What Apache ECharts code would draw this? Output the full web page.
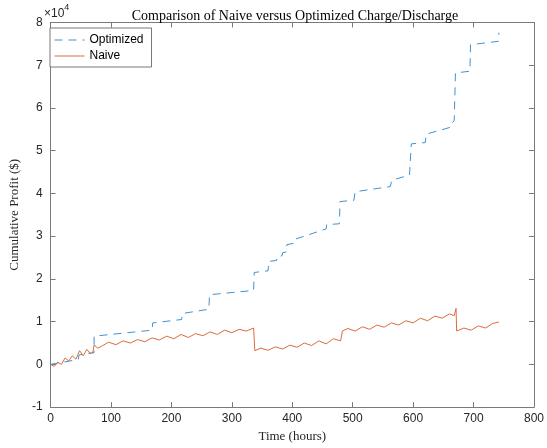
<!DOCTYPE html>
<html>
<head>
<meta charset="utf-8">
<script src="https://cdn.jsdelivr.net/npm/echarts@6/dist/echarts.min.js"></script>
<style>
  html, body { margin: 0; padding: 0; background: #fff; }
  #main { width: 547px; height: 448px; }
</style>
</head>
<body>
<div id="main"></div>
<script>
// values in units of 1e4 $, x in hours
var optimized = [
  [0, 0.00], [20, 0.05], [40, 0.10], [46, 0.12], [47, 0.22], [68, 0.27], [72, 0.27],
  [72, 0.66], [168, 0.80], [169, 0.97], [217, 1.05], [218, 1.19], [262, 1.29],
  [263, 1.63], [336, 1.73], [337, 2.15], [360, 2.19], [361, 2.41], [374, 2.43],
  [375, 2.52], [383, 2.54], [384, 2.61], [390, 2.63], [391, 2.80], [404, 2.84],
  [405, 2.93], [420, 3.00], [456, 3.17], [457, 3.27], [478, 3.29], [479, 3.81],
  [502, 3.84], [504, 4.04], [562, 4.16], [565, 4.31], [594, 4.43], [597, 5.16],
  [620, 5.19], [622, 5.39], [645, 5.48], [662, 5.55], [664, 5.65], [668, 5.70],
  [670, 6.82], [694, 6.86], [695, 7.48], [741, 7.56], [742, 7.76]
];

var naive = [
  [0, 0.00], [6, -0.05], [12, 0.05], [18, 0.00], [24, 0.15], [30, 0.08], [36, 0.20],
  [42, 0.12], [48, 0.32], [54, 0.20], [60, 0.35], [66, 0.25], [70, 0.28], [72, 0.45],
  [78, 0.38], [84, 0.42], [96, 0.52], [108, 0.46], [120, 0.55], [132, 0.50], [144, 0.58],
  [156, 0.53], [168, 0.62], [180, 0.57], [192, 0.66], [204, 0.60], [216, 0.70],
  [228, 0.63], [240, 0.72], [252, 0.67], [264, 0.76], [276, 0.70], [288, 0.80],
  [300, 0.74], [312, 0.82], [324, 0.78], [336, 0.85], [337, 0.85], [338, 0.32],
  [348, 0.38], [360, 0.33], [372, 0.41], [384, 0.36], [396, 0.45], [408, 0.40],
  [420, 0.50], [432, 0.44], [444, 0.55], [456, 0.48], [468, 0.60], [480, 0.55],
  [482, 0.58], [483, 0.78], [492, 0.84], [504, 0.78], [516, 0.88], [528, 0.82],
  [540, 0.92], [552, 0.87], [564, 0.97], [576, 0.92], [588, 1.02], [600, 0.97],
  [612, 1.08], [624, 1.02], [636, 1.13], [648, 1.08], [660, 1.18], [668, 1.14],
  [671, 1.31], [672, 0.78], [684, 0.85], [696, 0.80], [708, 0.90], [720, 0.85],
  [732, 0.96], [742, 0.99]
];

var xTicks = [0, 800, 100];
var yTicks = [-1, 8, 1];

var axisColor = '#7a7a7a';
var blue = '#3f92d2';
var orange = '#de6a3c';
var labelFont = { fontFamily: 'Liberation Sans', fontSize: 12, color: '#262626' };

var chart = echarts.init(document.getElementById('main'), null, { renderer: 'canvas' });

function boxAxis(extra) {
  return Object.assign({
    type: 'value',
    axisLine: { show: true, onZero: false, lineStyle: { color: axisColor, width: 1 } },
    axisTick: { show: true, inside: true, length: 5, lineStyle: { color: axisColor } },
    splitLine: { show: false }
  }, extra);
}

chart.setOption({
  animation: false,
  title: {
    text: 'Comparison of Naive versus Optimized Charge/Discharge',
    left: 290, top: 4, textAlign: 'center',
    textStyle: { fontFamily: 'Liberation Serif', fontSize: 14, fontWeight: 'normal', color: '#000' }
  },
  grid: { left: 44, right: 10.5, top: 22.5, bottom: 37 },
  legend: {
    orient: 'vertical', left: 50, top: 28,
    itemWidth: 30, itemHeight: 10, itemGap: 4,
    padding: [6, 8, 5, 4],
    borderColor: '#555', borderWidth: 0.8,
    backgroundColor: '#fff',
    itemStyle: { opacity: 0 },
    lineStyle: { width: 1 },
    textStyle: { fontFamily: 'Liberation Sans', fontSize: 12, color: '#000' },
    data: ['Optimized', 'Naive']
  },
  graphic: [{
    type: 'text', left: 44, top: 3,
    style: {
      text: '{a|\u00d710}{b|4}',
      rich: {
        a: { fontFamily: 'Liberation Sans', fontSize: 12, fill: '#262626', padding: [6, 0, 0, 0] },
        b: { fontFamily: 'Liberation Sans', fontSize: 9, fill: '#262626', padding: [0, 0, 6, 0] }
      }
    }
  }],
  xAxis: [
    boxAxis({
      min: xTicks[0], max: xTicks[1], interval: xTicks[2], position: 'bottom',
      name: 'Time (hours)', nameLocation: 'middle', nameGap: 22,
      nameTextStyle: { fontFamily: 'Liberation Serif', fontSize: 13, color: '#262626' },
      axisLabel: Object.assign({ margin: 6 }, labelFont)
    }),
    boxAxis({ min: xTicks[0], max: xTicks[1], interval: xTicks[2], position: 'top', axisLabel: { show: false } })
  ],
  yAxis: [
    boxAxis({
      min: yTicks[0], max: yTicks[1], interval: yTicks[2], position: 'left',
      name: 'Cumulative Profit ($)', nameLocation: 'middle', nameGap: 25,
      nameTextStyle: { fontFamily: 'Liberation Serif', fontSize: 13, color: '#262626' },
      axisLabel: Object.assign({ margin: 8 }, labelFont)
    }),
    boxAxis({ min: yTicks[0], max: yTicks[1], interval: yTicks[2], position: 'right', axisLabel: { show: false } })
  ],
  series: [
    {
      name: 'Optimized', type: 'line', data: optimized,
      showSymbol: false, symbol: 'none',
      lineStyle: { color: blue, width: 1, type: [8, 6] },
      itemStyle: { color: blue }
    },
    {
      name: 'Naive', type: 'line', data: naive,
      showSymbol: false, symbol: 'none',
      lineStyle: { color: orange, width: 1 },
      itemStyle: { color: orange }
    }
  ]
});
</script>
</body>
</html>
